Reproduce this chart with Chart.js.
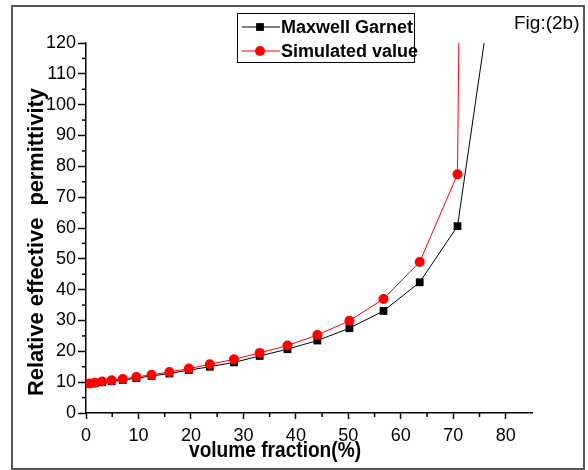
<!DOCTYPE html>
<html lang="en">
<head>
    <meta charset="UTF-8">
    <title>Fig 2b</title>
    <script src="https://cdn.jsdelivr.net/npm/chart.js"></script>
    <style>
        body { margin: 0; background: #fff; }
        #wrap { width: 588px; height: 470px; }
    </style>
</head>
<body>
    <div id="wrap">
        <canvas id="fig" width="588" height="470"></canvas>
    </div>

    <script>
        // values
        const volumeFraction = [0.7, 1.7, 3.1, 4.9, 7.0, 9.6, 12.5, 15.9, 19.6, 23.6, 28.2, 33.1, 38.4, 44.1, 50.2, 56.7, 63.6, 70.8];
        const maxwellGarnet = [9.5, 9.7, 10.0, 10.3, 10.7, 11.3, 12.0, 12.8, 13.9, 15.0, 16.4, 18.5, 20.7, 23.5, 27.5, 33.1, 42.4, 60.6];
        const simulated = [9.6, 9.8, 10.2, 10.6, 11.0, 11.7, 12.4, 13.3, 14.4, 15.8, 17.4, 19.5, 21.9, 25.3, 29.9, 37.0, 49.0, 77.4];
        // last points run off the top of the plot
        const mgTailX = [77.5];
        const mgTailY = [139.1];
        const simTailX = [71.3];
        const simTailY = [160];

        const seriesNames = ['Maxwell Garnet', 'Simulated value'];
        const xTitle = 'volume fraction(%)';
        const yTitle = 'Relative effective  permittivity';
        const figLabel = 'Fig:(2b)';

        function toPoints(xs, ys) {
            return xs.map((x, i) => ({ x: x, y: ys[i] }));
        }

        const font = 'Liberation Sans, Arial, sans-serif';

        // frame, legend box, axis titles and the short minor ticks
        const decorations = {
            id: 'decorations',
            beforeDraw(chart) {
                const ctx = chart.ctx;
                ctx.save();
                ctx.fillStyle = '#fff';
                ctx.fillRect(0, 0, chart.width, chart.height);
                ctx.strokeStyle = '#555';
                ctx.lineWidth = 2;
                ctx.strokeRect(12, 6, 572, 463);
                ctx.restore();
            },
            afterDraw(chart) {
                const ctx = chart.ctx;
                const xs = chart.scales.x, ys = chart.scales.y;
                ctx.save();

                // minor ticks
                ctx.strokeStyle = '#000';
                ctx.lineWidth = 1.5;
                for (let v = 5; v < 85; v += 10) {
                    const px = xs.getPixelForValue(v);
                    ctx.beginPath();
                    ctx.moveTo(px, xs.top);
                    ctx.lineTo(px, xs.top + 4);
                    ctx.stroke();
                }
                for (let v = 5; v < 120; v += 10) {
                    const py = ys.getPixelForValue(v);
                    ctx.beginPath();
                    ctx.moveTo(ys.right, py);
                    ctx.lineTo(ys.right - 4, py);
                    ctx.stroke();
                }

                // axis titles
                ctx.fillStyle = '#000';
                ctx.font = 'bold 22px ' + font;
                ctx.textAlign = 'center';
                ctx.textBaseline = 'middle';
                ctx.fillText(xTitle, 275, 451, 172);
                ctx.save();
                ctx.translate(37, 242);
                ctx.rotate(-Math.PI / 2);
                ctx.fillText(yTitle, 0, 0, 308);
                ctx.restore();

                // figure label
                ctx.font = '19px ' + font;
                ctx.textAlign = 'left';
                ctx.fillText(figLabel, 514, 24);

                // legend
                ctx.strokeStyle = '#000';
                ctx.lineWidth = 1;
                ctx.strokeRect(237.5, 13.5, 177, 49);
                const rows = [27, 51];
                [0, 1].forEach((di, r) => {
                    const ds = chart.data.datasets[di];
                    const y = rows[r];
                    ctx.strokeStyle = ds.borderColor;
                    ctx.lineWidth = 1;
                    ctx.beginPath();
                    ctx.moveTo(242, y);
                    ctx.lineTo(280, y);
                    ctx.stroke();
                    ctx.fillStyle = ds.pointBackgroundColor;
                    Chart.helpers.drawPoint(ctx, {
                        pointStyle: ds.pointStyle,
                        radius: ds.pointRadius,
                        borderWidth: 0,
                        rotation: 0
                    }, 260, y);
                    ctx.fillStyle = '#000';
                    ctx.font = 'bold 18px ' + font;
                    ctx.textBaseline = 'middle';
                    ctx.fillText(ds.label, 281, y + 1);
                });
                ctx.restore();
            }
        };

        new Chart(document.getElementById('fig'), {
            type: 'line',
            data: {
                datasets: [{
                    label: seriesNames[0],
                    data: toPoints(volumeFraction.concat(mgTailX), maxwellGarnet.concat(mgTailY)),
                    borderColor: '#000',
                    backgroundColor: '#000',
                    pointBackgroundColor: '#000',
                    pointBorderColor: '#000',
                    pointStyle: 'rect',
                    pointRadius: 5.5,
                    pointBorderWidth: 0,
                    borderWidth: 1,
                    tension: 0,
                    order: 1
                }, {
                    label: seriesNames[1],
                    data: toPoints(volumeFraction.concat(simTailX), simulated.concat(simTailY)),
                    borderColor: '#ff0000',
                    backgroundColor: '#ff0000',
                    pointBackgroundColor: '#ff0000',
                    pointBorderColor: '#ff0000',
                    pointStyle: 'circle',
                    pointRadius: 5,
                    pointBorderWidth: 0,
                    borderWidth: 1,
                    tension: 0,
                    order: 0
                }]
            },
            options: {
                responsive: false,
                animation: false,
                events: [],
                layout: { padding: { left: 0, top: 43, right: 56, bottom: 0 } },
                plugins: {
                    legend: { display: false },
                    tooltip: { enabled: false }
                },
                scales: {
                    x: {
                        type: 'linear',
                        min: 0,
                        max: 85,
                        afterFit(scale) { scale.height = 57; },
                        border: { color: '#000', width: 1.5 },
                        grid: {
                            drawOnChartArea: false,
                            tickLength: 6,
                            tickWidth: 1.5,
                            tickColor: c => (c.tick && c.tick.value % 10 === 0) ? '#000' : 'rgba(0,0,0,0)'
                        },
                        ticks: {
                            stepSize: 5,
                            maxRotation: 0,
                            autoSkip: false,
                            padding: 6,
                            color: '#000',
                            font: { family: font, size: 18 },
                            callback: v => v % 10 === 0 && v <= 80 ? v : ''
                        }
                    },
                    y: {
                        min: 0,
                        max: 120,
                        afterFit(scale) { scale.width = 86; },
                        border: { color: '#000', width: 1.5 },
                        grid: {
                            drawOnChartArea: false,
                            tickLength: 8,
                            tickWidth: 1.5,
                            tickColor: c => (c.tick && c.tick.value % 10 === 0) ? '#000' : 'rgba(0,0,0,0)'
                        },
                        ticks: {
                            stepSize: 5,
                            autoSkip: false,
                            padding: 2,
                            color: '#000',
                            font: { family: font, size: 18 },
                            callback: v => v % 10 === 0 ? v : ''
                        }
                    }
                }
            },
            plugins: [decorations]
        });
    </script>
</body>
</html>
